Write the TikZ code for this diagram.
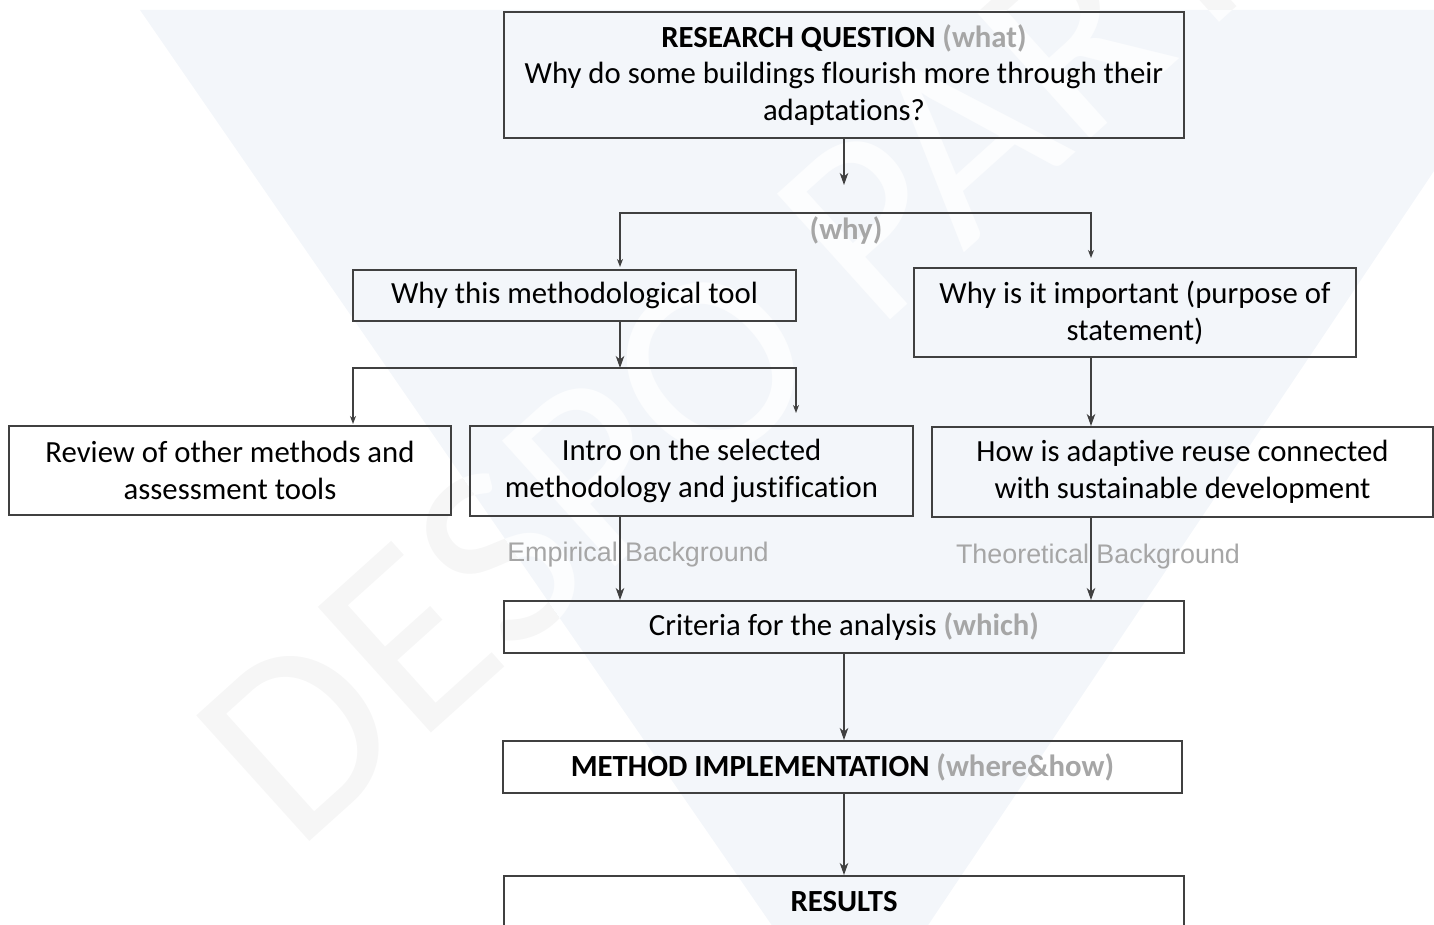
\documentclass[tikz,border=0pt]{standalone}
\usepackage{fontspec}
\setmainfont{Carlito}[Ligatures=NoCommon]
\newfontfamily\arialfont{Liberation Sans}
\usetikzlibrary{arrows.meta}
\definecolor{edge}{HTML}{404040}
\definecolor{labelgray}{HTML}{A6A6A6}
\definecolor{tri}{HTML}{F3F6FA}
\definecolor{wmark}{HTML}{F6F6F6}
\definecolor{wmarkin}{HTML}{FCFDFE}

\begin{document}
\begin{tikzpicture}[x=0.02cm,y=-0.02cm,
  >={Stealth[length=0.24cm,width=0.17cm,inset=0.07cm]},
  box/.style={draw=edge,line width=0.04cm,inner sep=0pt,align=center,font=\fontsize{17.5}{21}\selectfont},
  link/.style={draw=edge,line width=0.03cm,->},
  fork/.style={draw=edge,line width=0.03cm,<->,>={Stealth[length=0.16cm,width=0.12cm,inset=0.05cm]}},
  note/.style={text=labelgray,font=\fontsize{17.5}{21}\selectfont\bfseries},
  bg/.style={text=labelgray,font=\arialfont\fontsize{15.3}{18}\selectfont},
  wm/.style={rotate=42,font=\fontsize{150}{150}\selectfont}]
\clip (0,0) rectangle (1434,925);
\node[wm,text=wmark] (wmout) at (730,350) {DESPO PART};
\begin{scope}
\clip (140,10) -- (1542,10) -- (851,1040) -- cycle;
\fill[tri] (0,0) rectangle (1434,925);
\node[wm,text=wmarkin] (wmin) at (730,350) {DESPO PART};
\end{scope}

\node[box,minimum width=13.6cm,minimum height=2.54cm] (rq) at (844,75) {\textbf{RESEARCH QUESTION} \textcolor{labelgray}{\textbf{(what)}}\\Why do some buildings flourish more through their\\adaptations?};
\node[box,minimum width=8.86cm,minimum height=1.02cm] (tool) at (574.5,295.5) {Why this methodological tool};
\node[box,minimum width=8.84cm,minimum height=1.78cm] (purpose) at (1135,312.5) {Why is it important (purpose of\\statement)};
\node[box,minimum width=8.84cm,minimum height=1.78cm] (review) at (230,470.5) {Review of other methods and\\assessment tools};
\node[box,minimum width=8.86cm,minimum height=1.8cm] (intro) at (691.5,471) {Intro on the selected\\methodology and justification};
\node[box,minimum width=10.02cm,minimum height=1.8cm] (reuse) at (1182.5,472) {How is adaptive reuse connected\\with sustainable development};
\node[box,minimum width=13.6cm,minimum height=1.04cm] (criteria) at (844,627) {Criteria for the analysis \textcolor{labelgray}{\textbf{(which)}}};
\node[box,minimum width=13.58cm,minimum height=1.04cm] (method) at (842.5,767) {\textbf{METHOD IMPLEMENTATION} \textcolor{labelgray}{\textbf{(where\&how)}}};
\node[box,minimum width=13.6cm,minimum height=1.04cm] (results) at (844,902) {\textbf{RESULTS}};

\node[note] (why) at (846,231) {(why)};
\node[bg] (emp) at (638,555) {Empirical Background};
\node[bg] (theo) at (1098,557) {Theoretical Background};

\coordinate (lcol) at (620,0);
\coordinate (rcol) at (1091,0);
\coordinate (qend) at (844,185);
\coordinate (wtop) at (844,213);
\coordinate (wleft) at (620,267);
\coordinate (wright) at (1091,258);
\coordinate (split) at (620,368);
\coordinate (sleft) at (353,424);
\coordinate (sright) at (796,413);

\draw[link] (rq) -- (qend);
\draw[fork] (wleft) |- (wtop) -| (wright);
\draw[link] (tool.south -| split) -- (split);
\draw[fork] (sleft) |- (split) -| (sright);
\draw[link] (purpose.south -| rcol) -- (reuse.north -| rcol);
\draw[link] (intro.south -| lcol) -- (criteria.north -| lcol);
\draw[link] (reuse.south -| rcol) -- (criteria.north -| rcol);
\draw[link] (criteria) -- (method.north -| criteria);
\draw[link] (method.south -| criteria) -- (results);
\end{tikzpicture}
\end{document}
